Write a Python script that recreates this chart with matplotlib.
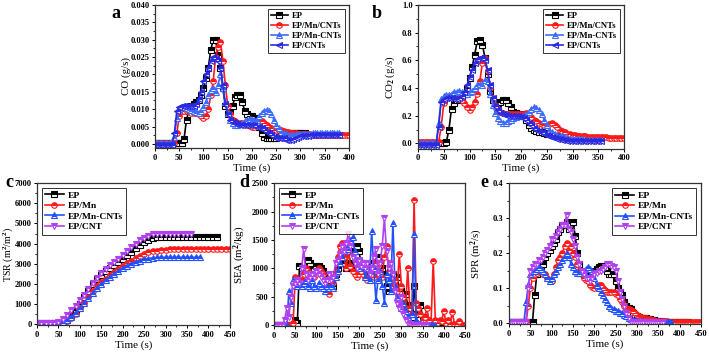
import numpy as np
import matplotlib
matplotlib.use("Agg")
import matplotlib.pyplot as plt
from matplotlib.ticker import MultipleLocator

plt.rcParams['font.family'] = ['Liberation Serif', 'DejaVu Serif']
plt.rcParams['font.weight'] = 'bold'
plt.rcParams['mathtext.fontset'] = 'custom'
plt.rcParams['mathtext.rm'] = 'Liberation Serif:bold'
plt.rcParams['mathtext.bf'] = 'Liberation Serif:bold'
plt.rcParams['mathtext.default'] = 'rm'

# sampling interval (s)
dt_top = 5
dt_tsr = 10
dt_bot = 5

# ---- a: CO (g/s)
co_ep = [0.0003,0.0003,0.0003,0.0003,0.0003,0.0003,0.0003,0.0003,0.0003,0.0003,
         0.0003,0.0003,0.0015,0.007,0.0095,0.011,0.0115,0.012,0.0125,0.014,
         0.016,0.019,0.022,0.027,0.030,0.030,0.0255,0.022,0.016,0.011,
         0.0085,0.0095,0.011,0.0135,0.014,0.014,0.012,0.0095,0.0085,0.008,
         0.008,0.0075,0.007,0.005,0.003,0.002,0.0018,0.0017,0.0016,0.0017,
         0.0018,0.002,0.0025,0.0028,0.003,0.003,0.003,0.003,0.003,0.003,
         0.003,0.003,0.003]
co_mn_cnts = [0.0002,0.0002,0.0002,0.0002,0.0002,0.0002,0.0002,0.0002,0.0002,0.003,
              0.008,0.0095,0.0095,0.0095,0.0095,0.009,0.009,0.0088,0.0085,0.008,
              0.0075,0.008,0.010,0.014,0.018,0.025,0.028,0.0295,0.024,0.017,
              0.011,0.0085,0.007,0.0065,0.006,0.006,0.006,0.0058,0.0055,0.0052,
              0.005,0.005,0.0055,0.006,0.0065,0.006,0.0055,0.005,0.0045,0.004,
              0.004,0.004,0.004,0.0038,0.0035,0.0033,0.003,0.003,0.003,0.0029,
              0.0028,0.0028,0.0027,0.0027,0.0027,0.0026,0.0026,0.0026,0.0026,0.0025,
              0.0025,0.0025,0.0025,0.0025,0.0025,0.0025,0.0025,0.0025,0.0025,0.0025,
              0.0025]
co_mn_dash_cnts = [0.0003,0.0003,0.0003,0.0003,0.0003,0.0003,0.0003,0.0003,0.002,0.0075,
                   0.010,0.0105,0.0105,0.0103,0.010,0.0098,0.0095,0.0093,0.009,0.0095,
                   0.0105,0.012,0.014,0.0155,0.016,0.015,0.017,0.020,0.016,0.012,
                   0.009,0.007,0.006,0.0055,0.0055,0.0058,0.006,0.0065,0.007,0.0072,
                   0.007,0.0068,0.007,0.008,0.009,0.0095,0.0098,0.0095,0.0085,0.007,
                   0.0055,0.0045,0.0035,0.003,0.0028,0.0025,0.0025,0.0025,0.0026,0.0027,
                   0.0028,0.0028,0.0028,0.0029,0.0029,0.003,0.003,0.003,0.003,0.003,
                   0.003,0.003,0.003,0.003,0.003,0.003,0.003]
co_cnts = [-0.0003,-0.0003,-0.0003,-0.0003,-0.0003,-0.0003,-0.0003,-0.0003,0.003,0.0095,
           0.0105,0.0108,0.011,0.011,0.011,0.0108,0.011,0.0115,0.013,0.015,
           0.018,0.020,0.022,0.024,0.025,0.0245,0.024,0.022,0.017,0.0115,
           0.0085,0.007,0.0062,0.006,0.0058,0.0055,0.0055,0.0055,0.0055,0.0055,
           0.0055,0.0053,0.005,0.0048,0.0045,0.004,0.0035,0.003,0.0025,0.002,
           0.0018,0.0017,0.0017,0.0016,0.0012,0.001,0.0012,0.0015,0.0018,0.002,
           0.0022,0.0023,0.0024,0.0024,0.0025,0.0025,0.0025,0.0025,0.0025,0.0025,
           0.0025,0.0025,0.0025,0.0025,0.0025,0.0025,0.0025]

# ---- b: CO2 (g/s)
co2_ep = [0.005,0.005,0.005,0.005,0.005,0.005,0.005,0.005,0.005,0.005,
          0.005,0.01,0.10,0.25,0.29,0.31,0.32,0.33,0.36,0.40,
          0.47,0.55,0.64,0.74,0.745,0.71,0.62,0.50,0.38,0.31,
          0.29,0.29,0.30,0.31,0.31,0.29,0.26,0.23,0.22,0.215,
          0.21,0.20,0.17,0.13,0.11,0.10,0.09,0.085,0.08,0.075,
          0.07,0.065,0.06,0.055,0.05,0.045,0.04,0.035,0.03,0.03,
          0.03]
co2_mn_cnts = [0.01,0.01,0.01,0.01,0.01,0.01,0.01,0.01,0.01,0.12,
               0.29,0.33,0.34,0.34,0.34,0.33,0.32,0.31,0.29,0.26,
               0.24,0.26,0.30,0.36,0.45,0.58,0.62,0.52,0.40,0.33,
               0.28,0.25,0.23,0.22,0.21,0.21,0.21,0.21,0.21,0.21,
               0.21,0.215,0.22,0.21,0.19,0.17,0.16,0.15,0.14,0.13,
               0.13,0.14,0.145,0.13,0.115,0.10,0.09,0.08,0.07,0.065,
               0.06,0.058,0.055,0.053,0.05,0.05,0.048,0.047,0.046,0.045,
               0.045,0.044,0.043,0.043,0.042,0.042,0.041,0.041,0.04,0.04,
               0.04]
co2_mn_dash_cnts = [0.0,0.0,0.0,0.0,0.0,0.0,0.0,0.0,0.15,0.32,
                    0.34,0.35,0.35,0.36,0.37,0.37,0.38,0.37,0.36,0.36,
                    0.37,0.38,0.40,0.42,0.43,0.42,0.46,0.45,0.36,0.28,
                    0.22,0.18,0.16,0.15,0.15,0.16,0.17,0.18,0.19,0.20,
                    0.20,0.20,0.21,0.23,0.25,0.26,0.255,0.24,0.21,0.17,
                    0.13,0.10,0.08,0.07,0.06,0.055,0.05,0.045,0.04,0.035,
                    0.033,0.031,0.03,0.029,0.028,0.027,0.026,0.025,0.025,0.025,
                    0.025,0.025]
co2_cnts = [-0.01,-0.01,-0.01,-0.01,-0.01,-0.01,-0.01,-0.01,0.12,0.30,
            0.32,0.33,0.33,0.33,0.32,0.32,0.33,0.34,0.37,0.42,
            0.48,0.53,0.58,0.61,0.62,0.62,0.60,0.53,0.42,0.33,
            0.27,0.24,0.22,0.21,0.205,0.20,0.20,0.20,0.20,0.195,
            0.19,0.18,0.17,0.15,0.13,0.11,0.10,0.09,0.08,0.07,
            0.06,0.05,0.045,0.04,0.035,0.03,0.025,0.025,0.02,0.02,
            0.02,0.02,0.02,0.02,0.02,0.02,0.02,0.02,0.02,0.02,
            0.02,0.02]

# ---- c: TSR (m2/m2), 10 s step
tsr_ep = [50,50,50,50,50,
          50,100,230,450,720,1020,1340,1660,1980,2240,2450,2620,2780,2930,3080,
          3240,3420,3600,3780,3950,4100,4200,4270,4310,
          4330,4330,4330,4330,4330,4330,4330,4330,4330,4330,4330,4330,4330,4330]
tsr_mn = [50,50,50,50,50,50,
          80,170,330,530,780,1060,1350,1630,1880,2080,2250,2420,2580,2730,
          2880,3020,3160,3290,3400,3490,3560,3610,3650,3680,3700,
          3710,3710,3710,3710,3710,3710,3710,3710,3710,3710,3710,3710,3710,3710,3710]
tsr_mn_cnts = [50,50,50,50,50,
               60,120,230,380,570,800,1050,1310,1560,1790,1990,2170,2340,2500,2640,
               2770,2890,3000,3090,3160,3220,3260,3290,3310,
               3320,3320,3320,3320,3320,3320,3320,3320,3320,3320]
tsr_cnt = [60,60,60,60,60,
           100,250,450,680,920,1180,1450,1740,2030,2300,2550,2750,2920,3080,3250,
           3430,3620,3810,3990,4160,4300,4400,4460,4490,
           4500,4500,4500,4500,4500,4500,4500,4500]

# ---- d: SEA (m2/kg)
sea_ep = [0,0,0,0,0,0,0,0,0,0,
          100,50,1050,1000,950,1000,1150,1100,1000,1000,
          1050,1050,1000,950,850,850,800,750,700,900,
          1000,1100,1200,1100,1000,1300,1100,1000,1300,1400,
          1300,1100,1000,900,850,1000,1100,950,1100,1200,
          1150,1000,900,700,600,800,900,700,850,650,
          600,400,550,350,250,150,700,200,300,350,
          150,100,50,20,10,0,0,0,0,0,
          0,0,0,0,0]
sea_mn = [0,0,0,0,0,0,0,0,0,50,
          850,800,750,800,900,1000,950,900,850,850,
          900,1000,950,900,800,700,550,700,750,900,
          1200,1400,1450,1200,1000,1300,1050,950,900,850,
          900,950,900,850,800,1000,900,850,1100,1050,
          900,850,1200,1400,950,850,700,800,600,1250,
          700,500,300,1000,300,200,2200,400,300,200,
          100,150,300,100,50,1130,100,50,100,80,
          250,50,100,30,230,30,20,70,30,0,
          0]
sea_mn_cnts = [0,0,0,0,0,0,0,600,400,800,
               750,700,800,700,750,800,700,650,800,700,
               650,750,700,650,600,700,650,700,650,850,
               950,1100,1200,1300,1400,1350,1500,1550,1300,1100,
               1000,1150,1050,850,1000,800,1650,1000,450,800,
               950,700,400,900,800,600,1800,700,500,400,
               300,400,250,150,50,200,1600,100,50,30,
               20,10,0,0,0,0,0]
sea_cnt = [0,0,0,0,0,100,300,150,500,700,
           750,800,750,1000,1350,900,800,850,900,850,
           950,900,850,800,750,800,900,800,850,1100,
           1150,1250,1400,1300,1450,1600,1400,1200,1100,1000,
           1150,1050,1100,1000,1100,900,1000,1200,1350,900,
           1100,1400,1880,1300,1000,1100,900,600,400,300,
           500,200,100,50,20,0,0,0,0,0,
           0,0,0]

# ---- e: SPR (m2/s)
spr_ep = [0.005,0.005,0.005,0.005,0.005,0.005,0.005,0.005,0.005,0.005,
          0.005,0.005,0.08,0.14,0.15,0.16,0.17,0.19,0.20,0.21,
          0.22,0.23,0.24,0.26,0.27,0.28,0.28,0.29,0.27,0.285,
          0.29,0.25,0.20,0.17,0.15,0.14,0.14,0.14,0.14,0.145,
          0.15,0.155,0.16,0.165,0.165,0.16,0.15,0.14,0.14,0.14,
          0.12,0.10,0.09,0.08,0.06,0.05,0.045,0.04,0.03,0.025,
          0.02,0.018,0.016,0.015,0.015,0.013,0.012,0.01,0.01,0.008,
          0.007,0.006,0.005,0.005,0.004,0.004,0.004,0.003,0.003,0.003,
          0.003,0.003,0.003,0.003,0.003]
spr_mn = [0.005,0.005,0.005,0.005,0.005,0.005,0.005,0.005,0.005,0.05,
          0.10,0.13,0.14,0.145,0.15,0.15,0.14,0.14,0.13,0.125,
          0.12,0.14,0.16,0.18,0.19,0.20,0.22,0.23,0.21,0.22,
          0.20,0.19,0.17,0.15,0.14,0.13,0.125,0.12,0.11,0.105,
          0.10,0.105,0.11,0.11,0.10,0.095,0.09,0.09,0.09,0.088,
          0.085,0.08,0.07,0.06,0.05,0.045,0.04,0.038,0.035,0.03,
          0.025,0.02,0.018,0.016,0.014,0.012,0.011,0.01,0.009,0.008,
          0.008,0.007,0.007,0.006,0.006,0.005,0.005,0.005,0.004,0.004,
          0.004,0.004,0.003,0.003,0.003,0.003,0.003,0.003,0.003,0.003,
          0.003]
spr_mn_cnts = [0.005,0.005,0.005,0.005,0.005,0.005,0.005,0.005,0.06,0.11,
               0.14,0.15,0.15,0.155,0.16,0.155,0.15,0.14,0.13,0.12,
               0.13,0.14,0.15,0.16,0.17,0.18,0.19,0.20,0.19,0.17,
               0.16,0.15,0.145,0.145,0.15,0.15,0.155,0.16,0.155,0.15,
               0.13,0.11,0.10,0.09,0.08,0.07,0.06,0.05,0.045,0.04,
               0.035,0.035,0.03,0.03,0.025,0.02,0.015,0.012,0.01,0.009,
               0.008,0.007,0.006,0.006,0.005,0.005,0.005,0.004,0.004,0.004,
               0.004,0.003,0.003,0.003,0.003,0.003,0.003]
spr_cnt = [0.005,0.005,0.005,0.005,0.005,0.005,0.005,0.005,0.005,0.10,
           0.15,0.16,0.17,0.17,0.18,0.18,0.19,0.20,0.21,0.22,
           0.24,0.24,0.25,0.26,0.27,0.28,0.28,0.31,0.27,0.26,
           0.24,0.22,0.19,0.17,0.15,0.14,0.13,0.13,0.12,0.13,
           0.14,0.145,0.15,0.15,0.155,0.16,0.17,0.17,0.165,0.16,
           0.15,0.12,0.09,0.07,0.05,0.03,0.015,0.005,0.004,0.004,
           0.004,0.003,0.003,0.003,0.003,0.003,0.003,0.003,0.003,0.003,
           0.003,0.003,0.003]

labels_top = ['EP', 'EP/Mn/CNTs', 'EP/Mn-CNTs', 'EP/CNTs']
labels_bot = ['EP', 'EP/Mn', 'EP/Mn-CNTs', 'EP/CNT']
colors_top = ['black', '#ff1a1a', '#3d6bff', '#2a2ae0']
colors_bot = ['black', '#ff1a1a', '#2050ff', '#b040f0']
markers_top = ['s', 'o', '^', '<']
markers_bot = ['s', 'o', '^', 'v']


def draw(ax, series, dt, labels, colors, markers):
    for y, lab, c, m in zip(series, labels, colors, markers):
        t = np.arange(len(y)) * dt
        ax.plot(t, y, color=c, lw=1.2, marker=m, ms=4.0, mew=0.8,
                fillstyle='top', markerfacecoloralt='white', label=lab)


def style(ax, xlim, xstep, ylim, ystep, ylabel, yfmt, loc, lab_px, fs_lab, fs_leg):
    ax.set_xlim(*xlim)
    ax.set_ylim(*ylim)
    ax.xaxis.set_major_locator(MultipleLocator(xstep))
    ax.xaxis.set_minor_locator(MultipleLocator(xstep / 2))
    ax.yaxis.set_major_locator(MultipleLocator(ystep))
    ax.yaxis.set_minor_locator(MultipleLocator(ystep / 2))
    ax.yaxis.set_major_formatter(yfmt)
    ax.tick_params(which='major', direction='out', length=2.5, width=0.7, labelsize=6, pad=1.5)
    ax.tick_params(which='minor', direction='out', length=1.5, width=0.6)
    for s in ax.spines.values():
        s.set_linewidth(0.9)
        s.set_color('#333333')
    ax.set_xlabel('Time (s)', fontsize=8, labelpad=1)
    ax.set_ylabel(ylabel, fontsize=fs_lab)
    w_px = ax.get_position().width * 709
    ax.yaxis.set_label_coords(-lab_px / w_px, 0.5)
    leg = ax.legend(loc=loc, fontsize=fs_leg, frameon=True, fancybox=False, handlelength=2.0,
                    handletextpad=0.4, labelspacing=0.2, borderpad=0.35, borderaxespad=0.5)
    leg.get_frame().set_edgecolor('black')
    leg.get_frame().set_linewidth(0.7)


fig = plt.figure(figsize=(7.09, 3.52), dpi=100)

ax_a = fig.add_axes([0.2186, 0.5795, 0.2736, 0.406])
draw(ax_a, [co_ep, co_mn_cnts, co_mn_dash_cnts, co_cnts], dt_top, labels_top, colors_top, markers_top)
style(ax_a, (0, 400), 50, (-0.0012, 0.040), 0.005, 'CO (g/s)', '{x:.3f}', 'upper right', 24, 7.8, 6.2)

ax_b = fig.add_axes([0.5896, 0.577, 0.2906, 0.409])
draw(ax_b, [co2_ep, co2_mn_cnts, co2_mn_dash_cnts, co2_cnts], dt_top, labels_top, colors_top, markers_top)
style(ax_b, (0, 400), 50, (-0.04, 1.0), 0.2, 'CO$_2$ (g/s)', '{x:.1f}', 'upper right', 21, 7.8, 6.2)

ax_c = fig.add_axes([0.0522, 0.0767, 0.272, 0.403])
draw(ax_c, [tsr_ep, tsr_mn, tsr_mn_cnts, tsr_cnt], dt_tsr, labels_bot, colors_bot, markers_bot)
style(ax_c, (0, 450), 50, (-40, 7000), 1000, 'TSR (m$^2$/m$^2$)', '{x:.0f}', 'upper left', 22, 7.2, 6.8)

ax_d = fig.add_axes([0.3865, 0.074, 0.2694, 0.406])
draw(ax_d, [sea_ep, sea_mn, sea_mn_cnts, sea_cnt], dt_bot, labels_bot, colors_bot, markers_bot)
style(ax_d, (0, 450), 50, (-10, 2500), 500, 'SEA (m$^2$/kg)', '{x:.0f}', 'upper left', 26, 7.8, 6.8)

ax_e = fig.add_axes([0.718, 0.0795, 0.2708, 0.40])
draw(ax_e, [spr_ep, spr_mn, spr_mn_cnts, spr_cnt], dt_bot, labels_bot, colors_bot, markers_bot)
style(ax_e, (0, 450), 50, (-0.002, 0.4), 0.1, 'SPR (m$^2$/s)', '{x:.1f}', 'upper right', 24, 7.8, 6.8)

for lab, x, y in [('a', 0.157, 0.985), ('b', 0.524, 0.985), ('c', 0.008, 0.505),
                  ('d', 0.338, 0.505), ('e', 0.678, 0.505)]:
    fig.text(x, y, lab, fontsize=13, fontweight='bold', va='top')

fig.savefig('out.png', dpi=100)
